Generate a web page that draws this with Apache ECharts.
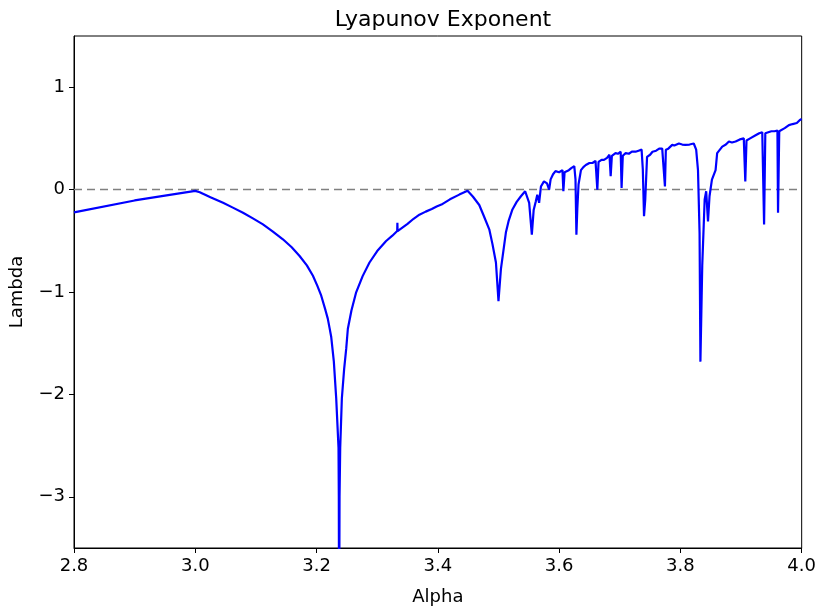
<!DOCTYPE html>
<html><head><meta charset="utf-8">
<script src="https://cdn.jsdelivr.net/npm/echarts@6/dist/echarts.min.js"></script>
<style>html,body{margin:0;padding:0;background:#fff}#c{width:819px;height:611px}</style>
</head><body><div id="c"></div>
<script>
var alphaX = [2.8,2.9,3.0,3.0074,3.025,3.0458,3.062,3.0787,3.095,3.1116,3.128,3.1445,3.159,3.172,3.184,3.194,3.201,3.2077,3.2148,3.2185,3.2214,3.2242,3.2285,3.2324,3.2362,3.2367,3.2372,3.2379,3.239,3.2417,3.2455,3.2489,3.2516,3.2575,3.2653,3.276,3.2873,3.3,3.3147,3.325,3.333,3.3333,3.3336,3.35,3.36,3.3696,3.38,3.39,3.398,3.4079,3.42,3.4354,3.449,3.458,3.4683,3.476,3.4848,3.49,3.4958,3.5,3.504,3.5122,3.517,3.523,3.53,3.537,3.544,3.5506,3.555,3.558,3.5616,3.564,3.567,3.57,3.575,3.58,3.5835,3.586,3.59,3.594,3.6,3.6055,3.607,3.609,3.616,3.62,3.625,3.627,3.6285,3.63,3.632,3.636,3.64,3.644,3.65,3.655,3.66,3.663,3.665,3.67,3.674,3.679,3.683,3.685,3.687,3.693,3.697,3.7015,3.703,3.705,3.7098,3.715,3.72,3.726,3.731,3.736,3.738,3.74,3.742,3.745,3.75,3.754,3.76,3.765,3.77,3.773,3.7745,3.776,3.78,3.7865,3.79,3.7975,3.803,3.808,3.815,3.822,3.826,3.829,3.8316,3.833,3.836,3.84,3.8425,3.8455,3.848,3.852,3.858,3.8606,3.869,3.875,3.88,3.885,3.891,3.898,3.9045,3.907,3.909,3.915,3.924,3.93,3.935,3.938,3.94,3.943,3.95,3.955,3.96,3.961,3.963,3.965,3.972,3.979,3.985,3.992,3.997,4.0];
var lambdaY = [-0.223,-0.106,-0.012,-0.026,-0.075,-0.129,-0.176,-0.226,-0.281,-0.34,-0.41,-0.485,-0.563,-0.648,-0.74,-0.842,-0.935,-1.036,-1.18,-1.26,-1.35,-1.44,-1.68,-2.039,-2.52,-3.0,-4.5,-3.0,-2.52,-2.04,-1.75,-1.553,-1.359,-1.18,-1.003,-0.845,-0.712,-0.6,-0.502,-0.45,-0.405,-0.323,-0.405,-0.335,-0.285,-0.245,-0.215,-0.19,-0.165,-0.14,-0.095,-0.049,-0.012,-0.07,-0.15,-0.26,-0.388,-0.53,-0.712,-1.09,-0.777,-0.42,-0.3,-0.194,-0.12,-0.065,-0.016,-0.129,-0.44,-0.2,-0.113,-0.049,-0.129,0.03,0.08,0.06,0.0,0.1,0.15,0.18,0.17,0.19,-0.016,0.17,0.19,0.21,0.23,0.1,-0.44,-0.19,0.05,0.19,0.22,0.24,0.26,0.26,0.28,0.0,0.27,0.29,0.29,0.31,0.34,0.13,0.33,0.356,0.35,0.37,0.016,0.33,0.356,0.35,0.37,0.37,0.38,0.39,0.2,-0.26,-0.1,0.32,0.34,0.37,0.38,0.4,0.4,0.4,0.03,0.39,0.4,0.437,0.43,0.45,0.44,0.437,0.44,0.45,0.39,0.19,-0.42,-1.68,-0.745,-0.097,-0.016,-0.31,-0.065,0.097,0.19,0.356,0.42,0.44,0.47,0.46,0.47,0.49,0.5,0.08,0.48,0.5,0.53,0.55,0.56,-0.34,0.55,0.566,0.57,0.57,0.576,-0.226,0.57,0.58,0.6,0.63,0.64,0.65,0.68,0.69];
var xTicks = [2.8,3.0,3.2,3.4,3.6,3.8,4.0];
var yTicks = [-3,-2,-1,0,1];
var zeroLine = [[2.8,0],[4.0,0]];

var pts = alphaX.map(function(x,i){return [x,lambdaY[i]];});
var font = 'DejaVu Sans';
var chart = echarts.init(document.getElementById('c'));
chart.setOption({
  animation:false,
  title:{text:'Lyapunov Exponent',left:438,top:4,textAlign:'center',textStyle:{fontFamily:font,fontSize:22,fontWeight:'normal',color:'#000'}},
  grid:{left:74,right:16,top:36,bottom:59,show:true,borderColor:'#000',borderWidth:1,backgroundColor:'transparent'},
  xAxis:{type:'value',min:2.8,max:4.0,name:'Alpha',nameLocation:'middle',nameGap:40,
    nameTextStyle:{fontFamily:font,fontSize:18,color:'#000'},
    axisLine:{show:true,onZero:false,lineStyle:{color:'#000'}},
    axisTick:{show:true,length:5,lineStyle:{color:'#000'},customValues:xTicks},
    axisLabel:{fontFamily:font,fontSize:18,color:'#000',margin:9,customValues:xTicks,formatter:function(v){return v.toFixed(1);}},
    splitLine:{show:false}},
  yAxis:{type:'value',min:-3.5,max:1.5,name:'Lambda',nameLocation:'middle',nameGap:48,
    nameTextStyle:{fontFamily:font,fontSize:18,color:'#000'},
    axisLine:{show:true,onZero:false,lineStyle:{color:'#000'}},
    axisTick:{show:true,length:5,lineStyle:{color:'#000'},customValues:yTicks},
    axisLabel:{fontFamily:font,fontSize:18,color:'#000',margin:9,customValues:yTicks,formatter:function(v){return v<0?'\u2212'+Math.abs(v):String(v);}},
    splitLine:{show:false}},
  series:[
    {type:'line',data:zeroLine,showSymbol:false,symbol:'none',lineStyle:{color:'#808080',width:1.5,type:[8,5]},z:1},
    {type:'line',data:pts,showSymbol:false,symbol:'none',clip:true,lineStyle:{color:'#0000ff',width:2.2},z:2}
  ]
});
</script></body></html>
